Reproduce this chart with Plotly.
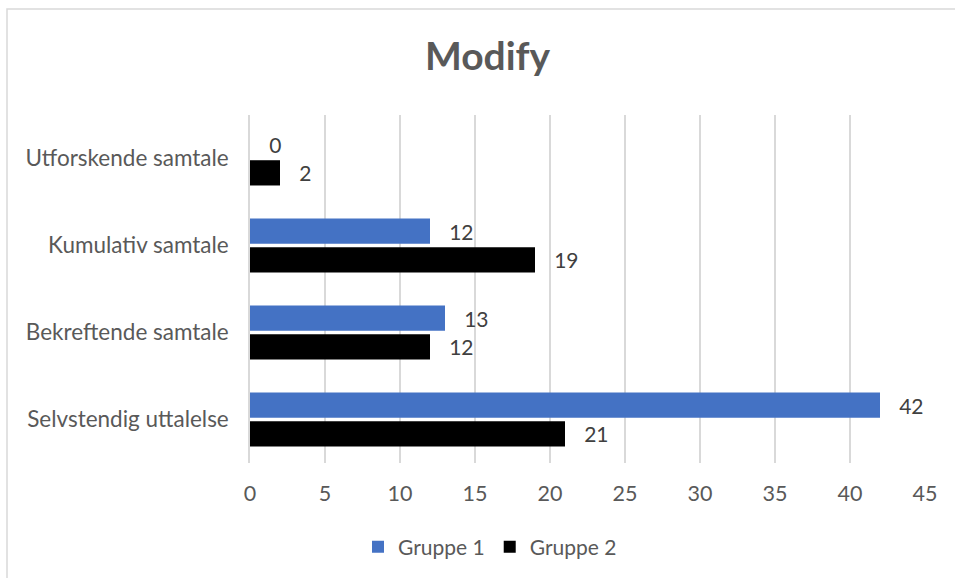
import plotly.graph_objects as go

categories = ["Selvstendig uttalelse", "Bekreftende samtale", "Kumulativ samtale", "Utforskende samtale"]
gruppe1 = [42, 13, 12, 0]
gruppe2 = [21, 12, 19, 2]
x_ticks = [0, 5, 10, 15, 20, 25, 30, 35, 40, 45]

FONT = "Lato, Carlito, Calibri, sans-serif"
TEXT_GRAY = "#595959"
LABEL_GRAY = "#404040"
TXT = 21
PAD = "\u00a0\u00a0\u00a0"

fig = go.Figure()

# Gruppe 2 is added first so that it sits below Gruppe 1 within each category
fig.add_trace(go.Bar(
    name="Gruppe 2", y=categories, x=gruppe2, orientation="h",
    marker=dict(color="#000000", line=dict(width=0)),
    text=[PAD + str(v) for v in gruppe2], textposition="outside",
    textfont=dict(family=FONT, size=TXT, color=LABEL_GRAY),
    cliponaxis=False,
))
fig.add_trace(go.Bar(
    name="Gruppe 1", y=categories, x=gruppe1, orientation="h",
    marker=dict(color="#4472C4", line=dict(width=0)),
    text=[PAD + str(v) for v in gruppe1], textposition="outside",
    textfont=dict(family=FONT, size=TXT, color=LABEL_GRAY),
    cliponaxis=False,
))

W, H = 955, 578
L, R, T, B = 250, 30, 115, 115
pw, ph = W - L - R, H - T - B

def px_x(p):
    return (p - L) / pw

def px_y(p):
    return 1 - (p - T) / ph

# light chart-area frame
fig.add_shape(type="rect", xref="paper", yref="paper",
              x0=px_x(7), x1=px_x(990), y0=px_y(9), y1=px_y(620),
              line=dict(color="#D9D9D9", width=1.5), fillcolor="rgba(0,0,0,0)",
              layer="below")

fig.update_layout(
    width=W, height=H,
    margin=dict(l=L, r=R, t=T, b=B),
    paper_bgcolor="white", plot_bgcolor="white",
    barmode="group", bargap=0.34, bargroupgap=0.12,
    font=dict(family=FONT, color=TEXT_GRAY, size=TXT),
    title=dict(text="<b>Modify</b>", x=487.5 / W, xref="container", xanchor="center",
               y=1 - 56 / H, yanchor="middle", yref="container",
               font=dict(family=FONT, size=39, color=TEXT_GRAY)),
    xaxis=dict(range=[0, 45], tickvals=x_ticks, showgrid=True,
               gridcolor="#D9D9D9", gridwidth=1.5, zeroline=False,
               showline=False, ticks="", ticklabelstandoff=15,
               tickfont=dict(size=21.5, color=TEXT_GRAY),
               fixedrange=True),
    yaxis=dict(categoryorder="array", categoryarray=categories,
               showline=True, linecolor="#D9D9D9", linewidth=1.5,
               ticks="", ticklabelstandoff=15, showgrid=False,
               tickfont=dict(size=22.5, color=TEXT_GRAY)),
    legend=dict(orientation="h", traceorder="reversed",
                x=490 / W, xref="container", xanchor="center",
                y=1 - 547 / H, yref="container", yanchor="middle",
                font=dict(family=FONT, size=TXT, color=TEXT_GRAY),
                itemwidth=30),
    showlegend=True,
)

fig.write_html("out.html")
